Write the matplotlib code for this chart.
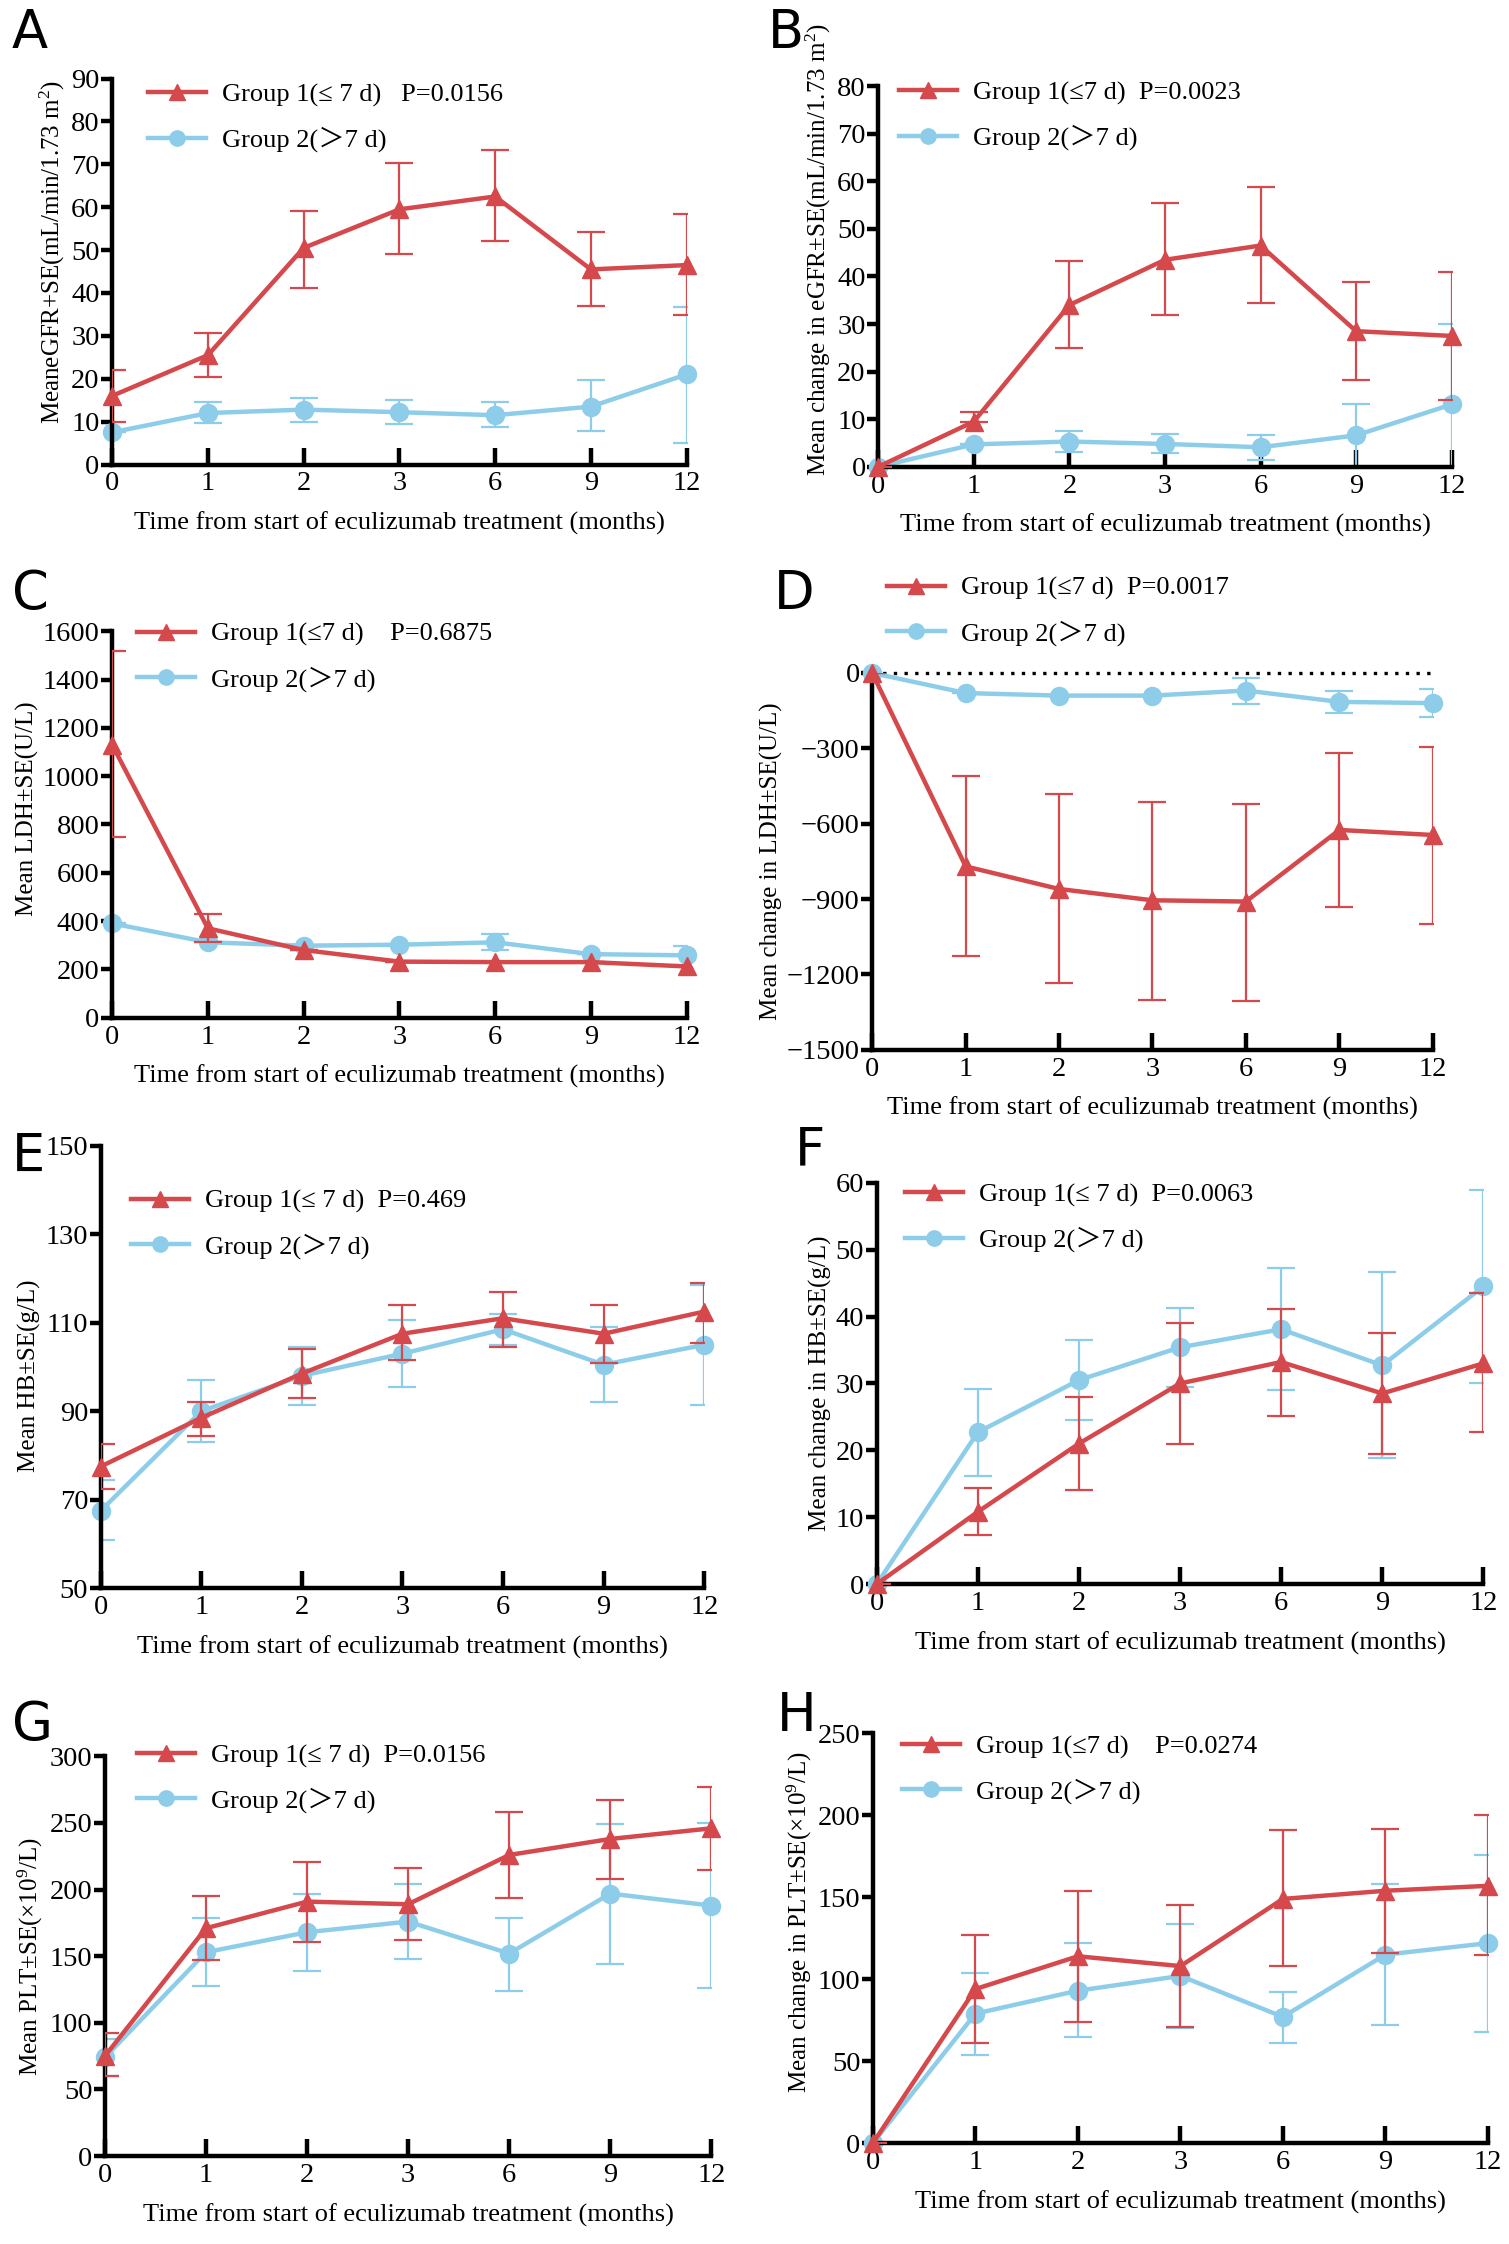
import matplotlib
matplotlib.use('Agg')
import matplotlib.pyplot as plt
import numpy as np

plt.rcParams['font.family'] = ['Liberation Serif', 'Noto Sans CJK SC', 'DejaVu Sans']
plt.rcParams['mathtext.fontset'] = 'custom'
plt.rcParams['mathtext.rm'] = 'Liberation Serif'
plt.rcParams['mathtext.it'] = 'Liberation Serif:italic'

RED = '#D5484B'
BLUE = '#8DCDEA'

months = ['0', '1', '2', '3', '6', '9', '12']
xlabel = 'Time from start of eculizumab treatment (months)'

# ---- Panel A: eGFR ----
a_g1_mean = [16, 25.5, 50.5, 59.5, 62.5, 45.5, 46.5]
a_g1_lo = [10, 20.5, 41.2, 49.2, 52.2, 37, 34.8]
a_g1_hi = [22, 30.6, 59.2, 70.2, 73.4, 54.1, 58.4]
a_g2_mean = [7.5, 12.0, 12.8, 12.2, 11.5, 13.5, 21.0]
a_g2_lo = [7.5, 9.7, 10.0, 9.5, 8.7, 7.7, 5.0]
a_g2_hi = [7.5, 14.5, 15.6, 15.0, 14.6, 19.6, 36.8]

# ---- Panel B: change in eGFR ----
b_g1_mean = [0, 9.5, 34.0, 43.5, 46.5, 28.5, 27.5]
b_g1_lo = [0, 9.5, 25.0, 31.8, 34.5, 18.2, 14.0]
b_g1_hi = [0, 11.5, 43.2, 55.4, 58.9, 38.9, 40.9]
b_g2_mean = [0, 4.7, 5.3, 4.8, 4.1, 6.6, 13.1]
b_g2_lo = [0, 4.7, 3.1, 2.9, 1.4, 0.0, 0.0]
b_g2_hi = [0, 4.7, 7.5, 6.8, 6.6, 13.1, 30.0]

# ---- Panel C: LDH ----
c_g1_mean = [1130, 370, 280, 232, 230, 230, 212]
c_g1_lo = [750, 315, 280, 232, 230, 230, 212]
c_g1_hi = [1520, 430, 280, 232, 230, 230, 212]
c_g2_mean = [390, 312, 298, 302, 312, 263, 258]
c_g2_lo = [390, 312, 298, 302, 280, 263, 218]
c_g2_hi = [390, 312, 298, 302, 345, 263, 296]

# ---- Panel D: change in LDH ----
d_g1_mean = [0, -770, -860, -905, -910, -625, -645]
d_g1_lo = [0, -1125, -1235, -1300, -1305, -930, -1000]
d_g1_hi = [0, -410, -480, -515, -520, -320, -295]
d_g2_mean = [0, -80, -90, -90, -70, -115, -120]
d_g2_lo = [0, -80, -90, -90, -125, -160, -175]
d_g2_hi = [0, -80, -90, -90, -20, -70, -65]

# ---- Panel E: HB ----
e_g1_mean = [77.5, 88.5, 98.5, 107.5, 111.0, 107.5, 112.5]
e_g1_lo = [72.5, 84.5, 93.0, 101.5, 104.5, 101.0, 105.5]
e_g1_hi = [82.5, 92.0, 104.0, 114.0, 117.0, 114.0, 119.0]
e_g2_mean = [67.5, 90.0, 98.0, 103.0, 108.5, 100.5, 105.0]
e_g2_lo = [61.0, 83.0, 91.5, 95.5, 105.0, 92.0, 91.5]
e_g2_hi = [74.5, 97.0, 104.5, 110.5, 112.0, 109.0, 118.5]

# ---- Panel F: change in HB ----
f_g1_mean = [0, 10.8, 21.0, 30.0, 33.2, 28.5, 33.0]
f_g1_lo = [0, 7.3, 14.0, 21.0, 25.2, 19.5, 22.8]
f_g1_hi = [0, 14.3, 28.0, 39.0, 41.2, 37.6, 43.5]
f_g2_mean = [0, 22.7, 30.5, 35.4, 38.1, 32.7, 44.5]
f_g2_lo = [0, 16.1, 24.5, 29.5, 29.0, 18.8, 30.1]
f_g2_hi = [0, 29.1, 36.5, 41.3, 47.2, 46.6, 58.9]

# ---- Panel G: PLT ----
g_g1_mean = [75, 171, 191, 189, 226, 238, 246]
g_g1_lo = [60, 147, 161, 162, 194, 208, 215]
g_g1_hi = [92, 195, 221, 216, 258, 267, 277]
g_g2_mean = [74, 153, 168, 176, 152, 197, 188]
g_g2_lo = [60, 128, 139, 148, 124, 144, 126]
g_g2_hi = [88, 179, 197, 204, 179, 249, 250]

# ---- Panel H: change in PLT ----
h_g1_mean = [0, 94, 114, 108, 149, 154, 157]
h_g1_lo = [0, 61, 74, 71, 108, 116, 115]
h_g1_hi = [0, 127, 154, 145, 191, 192, 200]
h_g2_mean = [0, 79, 93, 102, 77, 115, 122]
h_g2_lo = [0, 54, 65, 70, 61, 72, 68]
h_g2_hi = [0, 104, 122, 134, 92, 158, 176]

GT = '\uff1e'  # fullwidth greater-than

panels = [
    dict(letter='A', rect=[0.0743, 0.793, 0.3807, 0.172], ylim=(0, 90), yticks=np.arange(0, 91, 10),
         ylabel='MeaneGFR+SE(mL/min/1.73 m$^2$)', ylpos=0.55, lpad=3,
         g1=(a_g1_mean, a_g1_lo, a_g1_hi), g2=(a_g2_mean, a_g2_lo, a_g2_hi),
         lab1='Group 1(\u2264 7 d)   P=0.0156', lab2='Group 2(' + GT + '7 d)',
         leg=(0.098, 0.9475), let=(0.008, 0.997)),
    dict(letter='B', rect=[0.582, 0.792, 0.380, 0.1696], ylim=(0, 80), yticks=np.arange(0, 81, 10),
         ylabel='Mean change in eGFR\u00b1SE(mL/min/1.73 m$^2$)', ylpos=0.57, lpad=3,
         g1=(b_g1_mean, b_g1_lo, b_g1_hi), g2=(b_g2_mean, b_g2_lo, b_g2_hi),
         lab1='Group 1(\u22647 d)  P=0.0023', lab2='Group 2(' + GT + '7 d)',
         leg=(0.596, 0.9484), let=(0.509, 0.997)),
    dict(letter='C', rect=[0.0743, 0.5465, 0.3807, 0.1722], ylim=(0, 1600), yticks=np.arange(0, 1601, 200),
         ylabel='Mean LDH\u00b1SE(U/L)', ylpos=0.54, lpad=3,
         g1=(c_g1_mean, c_g1_lo, c_g1_hi), g2=(c_g2_mean, c_g2_lo, c_g2_hi),
         lab1='Group 1(\u22647 d)    P=0.6875', lab2='Group 2(' + GT + '7 d)',
         leg=(0.091, 0.7072), let=(0.008, 0.747)),
    dict(letter='D', rect=[0.578, 0.5322, 0.3715, 0.1679], ylim=(-1500, 0), yticks=np.arange(-1500, 1, 300),
         ylabel='Mean change in LDH\u00b1SE(U/L)', ylpos=0.5, lpad=3,
         g1=(d_g1_mean, d_g1_lo, d_g1_hi), g2=(d_g2_mean, d_g2_lo, d_g2_hi),
         lab1='Group 1(\u22647 d)  P=0.0017', lab2='Group 2(' + GT + '7 d)',
         leg=(0.588, 0.7277), let=(0.513, 0.747), zero=True),
    dict(letter='E', rect=[0.0667, 0.2922, 0.400, 0.1973], ylim=(50, 150), yticks=np.arange(50, 151, 20),
         ylabel='Mean HB\u00b1SE(g/L)', ylpos=0.48, lpad=3,
         g1=(e_g1_mean, e_g1_lo, e_g1_hi), g2=(e_g2_mean, e_g2_lo, e_g2_hi),
         lab1='Group 1(\u2264 7 d)  P=0.469', lab2='Group 2(' + GT + '7 d)',
         leg=(0.087, 0.4545), let=(0.008, 0.496)),
    dict(letter='F', rect=[0.581, 0.2941, 0.402, 0.1788], ylim=(0, 60), yticks=np.arange(0, 61, 10),
         ylabel='Mean change in HB\u00b1SE(g/L)', ylpos=0.5, lpad=3,
         g1=(f_g1_mean, f_g1_lo, f_g1_hi), g2=(f_g2_mean, f_g2_lo, f_g2_hi),
         lab1='Group 1(\u2264 7 d)  P=0.0063', lab2='Group 2(' + GT + '7 d)',
         leg=(0.600, 0.4574), let=(0.527, 0.499)),
    dict(letter='G', rect=[0.0695, 0.0392, 0.4019, 0.1781], ylim=(0, 300), yticks=np.arange(0, 301, 50),
         ylabel='Mean PLT\u00b1SE(\u00d710$^9$/L)', ylpos=0.5, lpad=3,
         g1=(g_g1_mean, g_g1_lo, g_g1_hi), g2=(g_g2_mean, g_g2_lo, g_g2_hi),
         lab1='Group 1(\u2264 7 d)  P=0.0156', lab2='Group 2(' + GT + '7 d)',
         leg=(0.091, 0.2075), let=(0.008, 0.243)),
    dict(letter='H', rect=[0.5785, 0.045, 0.4075, 0.1825], ylim=(0, 250), yticks=np.arange(0, 251, 50),
         ylabel='Mean change in PLT\u00b1SE(\u00d710$^9$/L)', ylpos=0.54, lpad=3,
         g1=(h_g1_mean, h_g1_lo, h_g1_hi), g2=(h_g2_mean, h_g2_lo, h_g2_hi),
         lab1='Group 1(\u22647 d)    P=0.0274', lab2='Group 2(' + GT + '7 d)',
         leg=(0.598, 0.2115), let=(0.515, 0.247)),
]

fig = plt.figure(figsize=(15.09, 22.44), dpi=100)
x = np.arange(len(months))

TICK_FS = 20.5
LEG_FS = 19
XL_FS = 19
YL_FS = 18

for p in panels:
    ax = fig.add_axes(p['rect'])
    for key, color, marker, ms in (('g2', BLUE, 'o', 13), ('g1', RED, '^', 13)):
        mean, lo, hi = (np.array(v, dtype=float) for v in p[key])
        yerr = np.vstack([mean - lo, hi - mean])
        eb = ax.errorbar(x, mean, yerr=yerr, color=color, lw=3.2, marker=marker, ms=ms,
                         mec=color, mfc=color, elinewidth=1.6, capsize=10, capthick=1.6,
                         zorder=3 if key == 'g1' else 2)
        for c in eb.lines[1]:
            c.set_clip_on(True)
        for c in eb.lines[2]:
            c.set_clip_on(True)
        eb.lines[0].set_clip_on(False)
    if p.get('zero'):
        ax.plot([x[0], x[-1]], [0, 0], ls=(0, (1, 2.2)), color='black', lw=2.4, zorder=1, clip_on=False)
    ax.set_xlim(0, len(months) - 1)
    ax.set_ylim(*p['ylim'])
    ax.set_xticks(x)
    ax.set_xticklabels(months)
    ax.set_yticks(p['yticks'])
    for s in ('top', 'right'):
        ax.spines[s].set_visible(False)
    for s in ('left', 'bottom'):
        ax.spines[s].set_linewidth(3.2)
    ax.tick_params(axis='y', direction='out', length=8, width=3.2, labelsize=TICK_FS, pad=1)
    ax.tick_params(axis='x', direction='in', length=12, width=3.2, labelsize=TICK_FS, pad=5)
    ax.set_xlabel(xlabel, fontsize=XL_FS, labelpad=11)
    ax.set_ylabel(p['ylabel'], fontsize=YL_FS, labelpad=p['lpad'])
    ax.yaxis.label.set_y(p['ylpos'])
    h1 = plt.Line2D([], [], color=RED, lw=3.2, marker='^', ms=11)
    h2 = plt.Line2D([], [], color=BLUE, lw=3.2, marker='o', ms=11)
    fig.legend([h1, h2], [p['lab1'], p['lab2']], loc='center left', bbox_to_anchor=p['leg'],
               bbox_transform=fig.transFigure, frameon=False, fontsize=LEG_FS, borderpad=0,
               borderaxespad=0, handlelength=2.2, handletextpad=0.6, labelspacing=0.75)
    fig.text(p['let'][0], p['let'][1], p['letter'], fontsize=38, family='DejaVu Sans',
             ha='left', va='top')

fig.savefig('out.png', dpi=100)
